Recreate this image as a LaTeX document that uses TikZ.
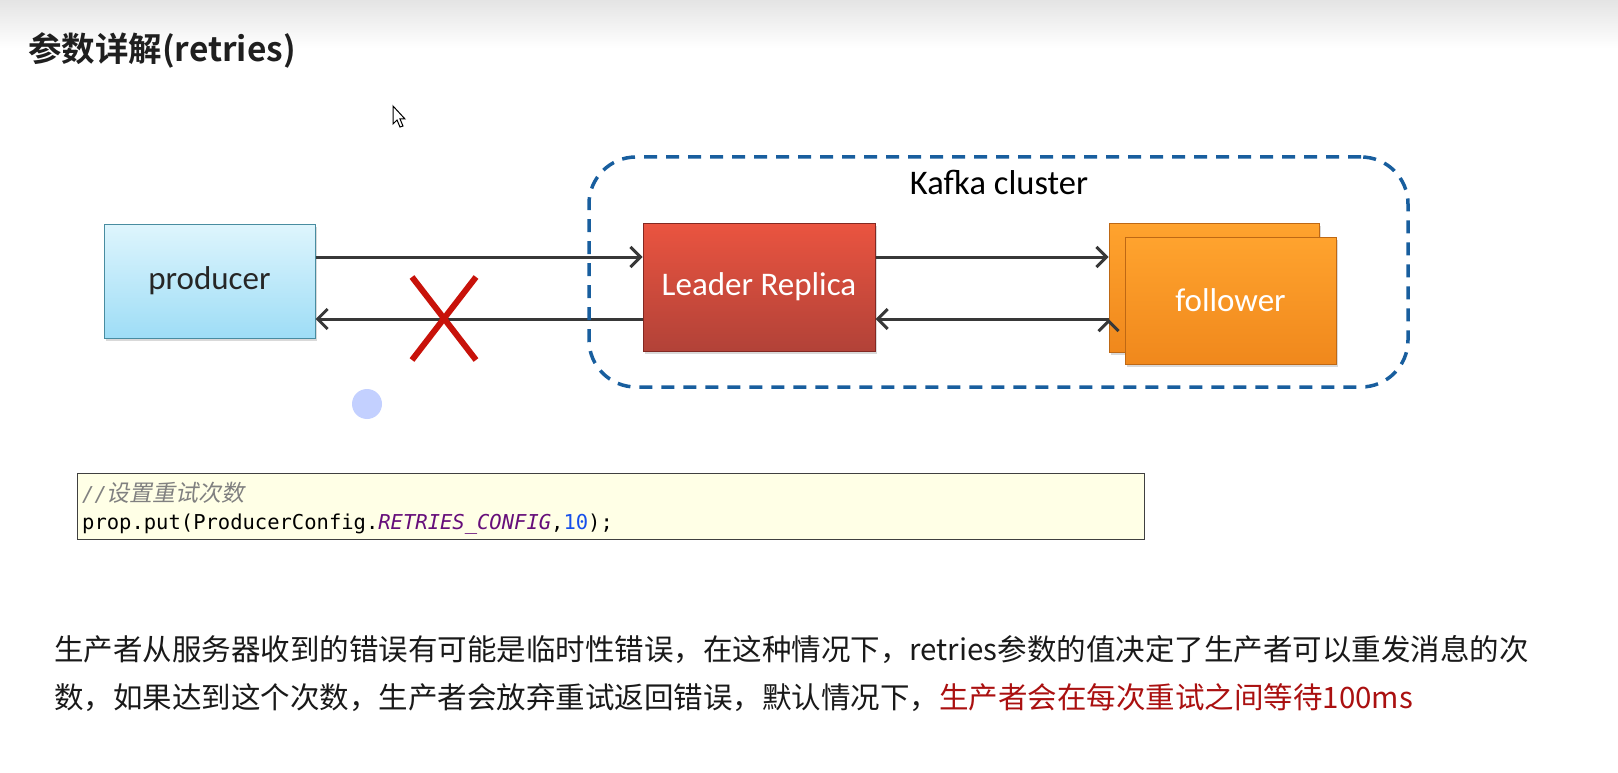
\documentclass[tikz,border=0pt]{standalone}
\usepackage{fontspec}
\setmainfont{Noto Sans CJK SC}[BoldFont={Noto Sans CJK SC Bold}]
\setmonofont{DejaVu Sans Mono}
\newfontfamily\boxfont{Carlito}
\newfontfamily\slantcjk{Noto Sans CJK SC}[FakeSlant=0.2]
\usepackage{tikz}
\usetikzlibrary{arrows.meta,shapes,positioning,shadows}
\definecolor{bandgray}{RGB}{228,228,228}
\definecolor{arrowgray}{RGB}{56,56,56}
\definecolor{clusterblue}{RGB}{24,94,158}
\definecolor{prodtop}{RGB}{222,245,253}
\definecolor{prodbot}{RGB}{158,221,246}
\definecolor{prodline}{RGB}{72,140,160}
\definecolor{leadtop}{RGB}{234,84,64}
\definecolor{leadbot}{RGB}{178,66,56}
\definecolor{leadline}{RGB}{130,40,34}
\definecolor{foltop}{RGB}{255,163,46}
\definecolor{folbot}{RGB}{240,136,28}
\definecolor{folline}{RGB}{190,104,20}
\definecolor{failred}{RGB}{200,18,10}
\definecolor{dotblue}{RGB}{195,208,255}
\definecolor{codefill}{RGB}{255,255,230}
\definecolor{commentgray}{RGB}{128,128,128}
\definecolor{constpurple}{RGB}{102,14,122}
\definecolor{numblue}{RGB}{23,80,235}
\definecolor{warnred}{RGB}{170,16,16}
\tikzset{
    box/.style={
    rectangle,inner sep=0pt,font=\boxfont\fontsize{33}{39}\selectfont,
    drop shadow={shadow xshift=2pt,shadow yshift=-3pt,opacity=0.3}
    },
    producerbox/.style={
    box,top color=prodtop,bottom color=prodbot,draw=prodline,line width=1pt,text=black!85
    },
    leaderbox/.style={
    box,top color=leadtop,bottom color=leadbot,draw=leadline,line width=1pt,text=white
    },
    followerbox/.style={
    box,top color=foltop,bottom color=folbot,draw=folline,line width=1pt,text=white
    },
    clusterbox/.style={
    rectangle,rounded corners=47pt,dashed,draw=clusterblue,line width=3.5pt,
    dash pattern=on 13pt off 9pt
    },
    flow/.style={
    ->,draw=arrowgray,line width=3pt
    },
    fail/.style={
    cross out,draw=failred,line width=6pt,inner sep=0pt
    },
    bodytext/.style={
    inner sep=0pt,anchor=base west,font=\fontsize{29.5}{36}\selectfont,text=black!90
    },
    codetext/.style={
    inner sep=0pt,anchor=base west,font=\ttfamily\fontsize{20.5}{24}\selectfont
    },
}
\begin{document}
\begin{tikzpicture}[x=1pt, y=-1pt, >={Straight Barb[length=10pt,width=20pt]}]
   \useasboundingbox (0,0) rectangle (1618,773);
   \fill[top color=bandgray,bottom color=white] (0,0) rectangle (1618,48);
   \node[inner sep=0pt,anchor=base west,font=\bfseries\fontsize{33.5}{40}\selectfont,text=black!88] (title) at (28,62) {参数详解(retries)};
   % pointer and click mark
   \draw[fill=white,line width=1pt,shift={(393,106)}] (0,0) -- (0,18) -- (4,14) -- (7,21) -- (10,20) -- (7,13) -- (12,13) -- cycle;
   \node[circle,fill=dotblue,minimum size=30pt,inner sep=0pt] (click) at (367,404) {};

   \node[producerbox,minimum width=211pt,minimum height=114pt] (producer) at (209.5,281) {producer};
   \node[leaderbox,minimum width=232pt,minimum height=128pt] (leader) at (759,287) {Leader Replica};
   \node[followerbox,minimum width=210pt,minimum height=129pt] (followerback) at (1214,287.5) {};
   \node[followerbox,minimum width=211pt,minimum height=127pt] (follower) at (1230.5,300.5) {follower};

   \coordinate (up) at (0,257);
   \coordinate (down) at (0,319);
  \path[flow]
    (producer.east |- up) edge (leader.west |- up)
    (leader.west |- down) edge (producer.east |- down)
    (leader.east |- up) edge (followerback.west |- up)
    (followerback.west |- down) edge (leader.east |- down);

   \node[clusterbox,minimum width=819pt,minimum height=230pt] (cluster) at (998.5,272) {};
   \node[font=\boxfont\fontsize{34.5}{40}\selectfont,inner sep=0pt] (clustername) at (999,182) {Kafka cluster};
   \node[fail,minimum width=58pt,minimum height=77pt] (lost) at (444,318.5) {};

   % code snippet
   \node[rectangle,draw=black!75,fill=codefill,line width=1pt,minimum width=1067pt,minimum height=66pt] (code) at (610.5,506) {};
   \node[codetext,text=commentgray] (comment) at (82,501) {\itshape //\slantcjk\fontsize{23}{26}\selectfont 设置重试次数};
   \node[codetext] (put) at (82,529) {prop.put(ProducerConfig.\textcolor{constpurple}{\itshape RETRIES\_CONFIG},\textcolor{numblue}{10});};

   \node[bodytext] (note1) at (54,660) {生产者从服务器收到的错误有可能是临时性错误，在这种情况下，retries参数的值决定了生产者可以重发消息的次};
   \node[bodytext] (note2) at (54,708) {数，如果达到这个次数，生产者会放弃重试返回错误，默认情况下，\textcolor{warnred}{生产者会在每次重试之间等待100ms}};
  \end{tikzpicture}
\end{document}
